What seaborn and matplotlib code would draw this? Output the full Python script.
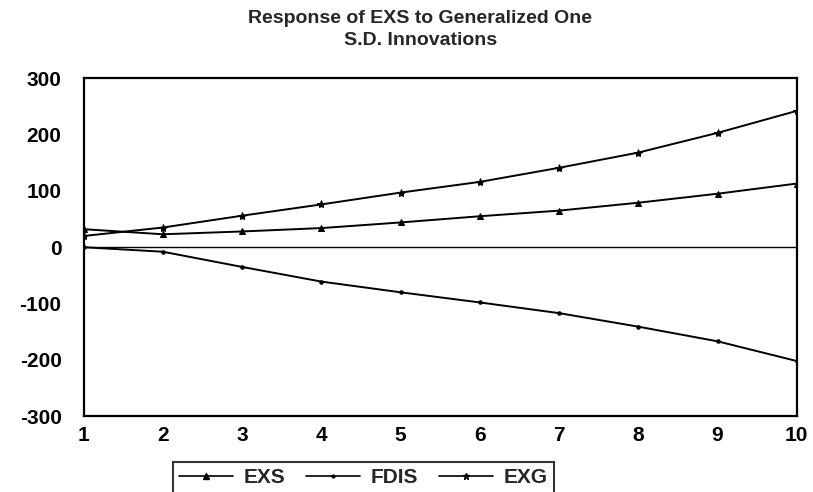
import matplotlib
matplotlib.use("Agg")
import matplotlib.pyplot as plt
import seaborn as sns
import pandas as pd
from matplotlib.lines import Line2D

periods = [1, 2, 3, 4, 5, 6, 7, 8, 9, 10]
exs = [32, 23, 28, 34, 44, 55, 65, 79, 95, 113]
fdis = [0, -8, -35, -61, -80, -98, -117, -141, -167, -202]
exg = [20, 35, 56, 76, 97, 116, 141, 168, 203, 242]
series_names = ["EXS", "FDIS", "EXG"]
yticks = [-300, -200, -100, 0, 100, 200, 300]

sns.set_style("white")
plt.rcParams['font.family'] = ['Liberation Sans', 'DejaVu Sans']
plt.rcParams['font.weight'] = 'bold'
plt.rcParams['axes.unicode_minus'] = False

df = pd.DataFrame({
    "period": periods * 3,
    "value": exs + fdis + exg,
    "series": [s for s in series_names for _ in periods],
})

fig = plt.figure(figsize=(8.13, 4.92), dpi=100)
ax = fig.add_axes([0.103, 0.154, 0.877, 0.687])

markers = {"EXS": "^", "FDIS": ".", "EXG": "*"}
msize = {"EXS": 5, "FDIS": 5, "EXG": 6}
for s in series_names:
    sub = df[df.series == s]
    sns.lineplot(data=sub, x="period", y="value", ax=ax, color="black",
                 marker=markers[s], markersize=msize[s], linewidth=1.4,
                 markeredgecolor="black", legend=False)

ax.axhline(0, color="black", linewidth=1.0)
ax.set_xlim(1, 10)
ax.set_ylim(-300, 300)
ax.set_xticks(periods)
ax.set_yticks(yticks)
ax.set_xlabel("")
ax.set_ylabel("")
for sp in ax.spines.values():
    sp.set_visible(True)
    sp.set_color("black")
    sp.set_linewidth(1.6)
ax.tick_params(axis="both", which="both", direction="out", length=6, width=1.2,
               labelsize=15, colors="black")
ax.tick_params(axis="x", pad=1)
ax.tick_params(axis="y", pad=10)
for lab in ax.get_xticklabels() + ax.get_yticklabels():
    lab.set_fontweight("bold")

fig.text(0.517, 0.963, "Response of EXS to Generalized One", ha="center", va="center",
         fontsize=14, fontweight="bold")
fig.text(0.517, 0.918, "S.D. Innovations", ha="center", va="center",
         fontsize=14, fontweight="bold")

handles = [Line2D([], [], color="black", marker=markers[s], markersize=msize[s] - 1,
                  linewidth=1.2) for s in series_names]
leg = fig.legend(handles, series_names, loc="upper center", bbox_to_anchor=(0.447, 0.082),
                 ncol=3, frameon=True, fancybox=False, edgecolor="black",
                 fontsize=15, handlelength=2.6, columnspacing=1.0, handletextpad=0.5,
                 borderpad=0.3)
leg.get_frame().set_linewidth(1.5)
for t in leg.get_texts():
    t.set_fontweight("bold")

fig.savefig("out.png", dpi=100)
